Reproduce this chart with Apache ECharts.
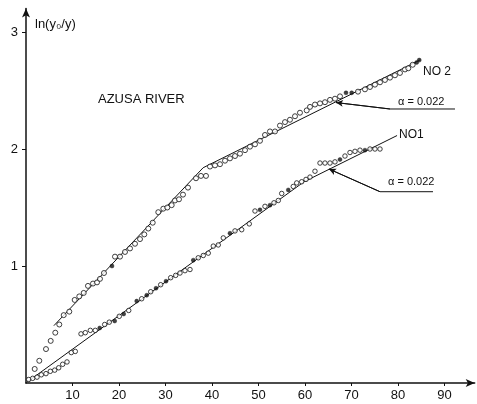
<!DOCTYPE html>
<html>
<head>
<meta charset="utf-8">
<script src="https://cdn.jsdelivr.net/npm/echarts@6/dist/echarts.min.js"></script>
<style>
html,body{margin:0;padding:0;background:#fff;}
#chart{width:477px;height:404px;}
</style>
</head>
<body>
<div id="chart"></div>
<script>
// ---- data ----
const xTicks = [10, 20, 30, 40, 50, 60, 70, 80, 90];
const yTicks = [1, 2, 3];

// NO1 (lower) open circles
const no1Open = [
  [0.58,0.03],[1.44,0.04],[2.37,0.05],[3.29,0.07],[4.30,0.08],[5.23,0.10],[6.17,0.11],
  [7.03,0.13],[7.89,0.16],[8.82,0.18],[9.74,0.26],[10.60,0.27],[11.83,0.42],[12.75,0.43],
  [13.83,0.45],[14.90,0.45],[16.92,0.50],[17.91,0.52],[20.06,0.57],[22.09,0.62],
  [24.88,0.72],[26.82,0.78],[28.97,0.84],[31.12,0.90],[32.19,0.92],[33.12,0.94],
  [34.19,0.96],[35.27,0.97],[37.05,1.07],[38.13,1.09],[39.20,1.11],[40.28,1.17],
  [41.35,1.18],[42.43,1.24],[44.95,1.30],[46.39,1.31],[48.02,1.36],[49.25,1.47],
  [51.40,1.51],[53.33,1.54],[54.26,1.56],[54.99,1.62],[57.48,1.68],[58.22,1.71],
  [59.29,1.72],[60.22,1.74],[61.08,1.76],[62.15,1.81],[63.23,1.88],[64.30,1.88],
  [65.38,1.88],[66.45,1.89],[68.60,1.94],[69.68,1.97],[70.75,1.98],[71.83,1.99],
  [73.98,2.00],[75.05,2.00],[76.13,2.00]
];
// NO1 solid dots
const no1Solid = [
  [15.85,0.47],[19.08,0.53],[21.01,0.59],[23.81,0.70],[25.96,0.75],[27.96,0.81],
  [30.11,0.87],[35.98,1.05],[43.87,1.28],[50.32,1.48],[52.47,1.52],[56.41,1.65],
  [67.53,1.91],[72.90,1.99]
];
// NO2 (upper) open circles
const no2Open = [
  [1.87,0.12],[2.86,0.19],[4.30,0.29],[5.31,0.36],[6.30,0.43],[7.16,0.50],[8.11,0.58],
  [9.31,0.61],[10.47,0.71],[11.46,0.74],[12.41,0.77],[13.33,0.83],[14.41,0.85],
  [15.27,0.86],[15.91,0.89],[16.77,0.94],[19.14,1.08],[20.22,1.08],[21.29,1.12],
  [22.37,1.15],[23.44,1.19],[24.52,1.23],[25.44,1.27],[26.30,1.32],[27.25,1.37],
  [28.45,1.46],[29.53,1.49],[30.39,1.50],[31.33,1.52],[32.04,1.56],[32.90,1.57],
  [33.76,1.61],[34.84,1.67],[36.56,1.75],[37.63,1.77],[38.71,1.77],[39.57,1.85],
  [40.65,1.86],[41.72,1.87],[42.80,1.90],[43.87,1.92],[44.95,1.94],[46.02,1.96],
  [47.10,1.99],[48.17,2.02],[49.25,2.04],[50.32,2.07],[51.40,2.12],[52.47,2.15],
  [53.55,2.15],[54.62,2.20],[55.70,2.23],[56.77,2.25],[57.85,2.28],[58.92,2.31],
  [60.37,2.33],[61.08,2.36],[62.15,2.38],[63.23,2.39],[64.30,2.40],[65.38,2.42],
  [66.45,2.43],[67.53,2.45],[71.40,2.49],[72.90,2.51],[73.98,2.53],[75.05,2.55],
  [76.13,2.57],[77.20,2.59],[78.28,2.61],[79.35,2.63],[80.43,2.65],[81.51,2.68],
  [82.22,2.69],[83.16,2.72]
];
// NO2 solid dots
const no2Solid = [
  [18.49,1.00],[68.82,2.48],[70.04,2.48],[84.02,2.74],[84.58,2.76]
];
// fitted broken lines
const no1Fit = [[0.3,0.01],[59.8,1.72],[79.8,2.115]];
const no2Fit = [[6.0,0.49],[38.1,1.84],[84.7,2.76]];
// annotation leaders (alpha labels)
const no2Leader = [[66.67,2.397],[78.28,2.342],[92.26,2.342]];
const no1Leader = [[65.16,1.829],[76.13,1.635],[87.53,1.635]];

const INK = '#111';
const FONT = 'Liberation Sans';

const chart = echarts.init(document.getElementById('chart'), null, {renderer: 'canvas'});

function leaderSeries(pts) {
  return {
    type: 'line', data: pts, symbol: 'none', silent: true, z: 3,
    lineStyle: {color: INK, width: 1},
    markLine: {
      silent: true, symbol: ['arrow', 'none'], symbolSize: [5, 7],
      label: {show: false}, lineStyle: {color: INK, width: 1, type: 'solid'},
      emphasis: {disabled: true},
      data: [[{coord: pts[0]}, {coord: pts[1]}]]
    }
  };
}

const option = {
  animation: false,
  backgroundColor: '#fff',
  grid: {left: 26, right: 2.3, top: 8.6, bottom: 21, containLabel: false},
  xAxis: {
    type: 'value', min: 0, max: 96.5,
    splitLine: {show: false},
    axisLine: {show: true, onZero: false, symbol: ['none', 'arrow'], symbolSize: [6, 9],
      lineStyle: {color: INK, width: 1.5}},
    axisTick: {show: true, length: 3, customValues: xTicks, lineStyle: {color: INK}},
    axisLabel: {customValues: xTicks, color: INK, fontFamily: FONT, fontSize: 13, margin: 6}
  },
  yAxis: {
    type: 'value', min: 0, max: 3.2,
    name: 'ln(y\u2080/y)', nameLocation: 'end', nameGap: -16,
    nameTextStyle: {color: INK, fontFamily: FONT, fontSize: 13, align: 'left',
      verticalAlign: 'middle', padding: [0, 0, 0, 9]},
    splitLine: {show: false},
    axisLine: {show: true, onZero: false, symbol: ['none', 'arrow'], symbolSize: [6, 9],
      lineStyle: {color: INK, width: 1.5}},
    axisTick: {show: true, length: 4, customValues: yTicks, lineStyle: {color: INK}},
    axisLabel: {customValues: yTicks, color: INK, fontFamily: FONT, fontSize: 13, margin: 8}
  },
  graphic: [
    {type: 'text', left: 98, top: 93, silent: true,
      style: {text: 'AZUSA RIVER', font: '13px "Liberation Sans"', fill: INK}},
    {type: 'text', left: 423, top: 66, silent: true,
      style: {text: 'NO 2', font: '12px "Liberation Sans"', fill: INK}},
    {type: 'text', left: 399, top: 129, silent: true,
      style: {text: 'NO1', font: '12px "Liberation Sans"', fill: INK}},
    {type: 'text', left: 398, top: 96, silent: true,
      style: {text: '\u03b1 = 0.022', font: '11px "Liberation Sans"', fill: INK}},
    {type: 'text', left: 388, top: 176, silent: true,
      style: {text: '\u03b1 = 0.022', font: '11px "Liberation Sans"', fill: INK}}
  ],
  series: [
    {name: 'NO1 fit', type: 'line', data: no1Fit, symbol: 'none', silent: true, z: 2,
      lineStyle: {color: INK, width: 1}},
    {name: 'NO2 fit', type: 'line', data: no2Fit, symbol: 'none', silent: true, z: 2,
      lineStyle: {color: INK, width: 1}},
    leaderSeries(no2Leader),
    leaderSeries(no1Leader),
    {name: 'NO1', type: 'scatter', data: no1Open, symbol: 'circle', symbolSize: 4.5, z: 4,
      itemStyle: {color: '#fff', borderColor: INK, borderWidth: 1}},
    {name: 'NO1 solid', type: 'scatter', data: no1Solid, symbol: 'circle', symbolSize: 4, z: 4,
      itemStyle: {color: INK, borderColor: INK, borderWidth: 0.5}},
    {name: 'NO2', type: 'scatter', data: no2Open, symbol: 'circle', symbolSize: 5, z: 4,
      itemStyle: {color: '#fff', borderColor: INK, borderWidth: 1}},
    {name: 'NO2 solid', type: 'scatter', data: no2Solid, symbol: 'circle', symbolSize: 4, z: 4,
      itemStyle: {color: INK, borderColor: INK, borderWidth: 0.5}}
  ]
};
chart.setOption(option);
</script>
</body>
</html>
